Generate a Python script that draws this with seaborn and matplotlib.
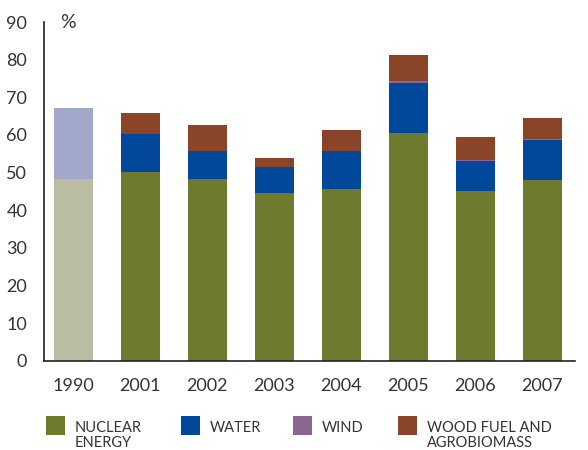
import numpy as np
import pandas as pd
import seaborn as sns
import matplotlib.pyplot as plt
from matplotlib.patches import Rectangle

# Data (%)
years = ['1990', '2001', '2002', '2003', '2004', '2005', '2006', '2007']
nuclear = [48.3, 50.1, 48.3, 44.6, 45.6, 60.5, 45.1, 48.1]
water = [18.8, 10.1, 7.4, 6.9, 10.1, 13.2, 8.0, 10.5]
wind = [0.0, 0.0, 0.0, 0.0, 0.0, 0.6, 0.3, 0.3]
wood = [0.0, 5.6, 6.9, 2.3, 5.6, 6.9, 6.0, 5.6]

labels = ['NUCLEAR\nENERGY', 'WATER', 'WIND', 'WOOD FUEL AND\nAGROBIOMASS']
colors = ['#6e7b2f', '#01479a', '#8a6790', '#8a4529']
faded = ['#b9bda2', '#a1a8cc']  # 1990 bar is drawn pale

sns.set_theme(style='white')
plt.rcParams['font.family'] = ['Lato', 'DejaVu Sans']

df = pd.DataFrame({'year': years, 'nuclear': nuclear, 'water': water,
                   'wind': wind, 'wood': wood})
df['c1'] = df['nuclear']
df['c2'] = df['c1'] + df['water']
df['c3'] = df['c2'] + df['wind']
df['c4'] = df['c3'] + df['wood']

W, H = 588, 450
fig = plt.figure(figsize=(W / 100, H / 100), dpi=100)
ax = fig.add_axes([0.0748, 0.198, 0.903, 0.753])

# draw cumulative totals from top layer down so lower layers cover upper ones
for col, c in zip(['c4', 'c3', 'c2', 'c1'], colors[::-1]):
    sns.barplot(data=df, x='year', y=col, color=c, width=0.58,
                saturation=1, ax=ax, errorbar=None, linewidth=0)

# recolour the 1990 bar (faded)
for p in ax.patches:
    if abs(p.get_x() + p.get_width() / 2) < 0.01:
        if abs(p.get_height() - df['c1'][0]) < 0.01:
            p.set_facecolor(faded[0])
        else:
            p.set_facecolor(faded[1])

ax.set_ylim(0, 90)
ax.set_xlim(-0.44, 7.49)
ax.set_yticks(range(0, 91, 10))
ax.set_xlabel('')
ax.set_ylabel('')
for s in ['top', 'right']:
    ax.spines[s].set_visible(False)
for s in ['left', 'bottom']:
    ax.spines[s].set_color('#222222')
    ax.spines[s].set_linewidth(1.2)
ax.tick_params(axis='both', length=0, labelsize=13, colors='#333333')
ax.tick_params(axis='x', pad=12)
ax.tick_params(axis='y', pad=12)
ax.text(0.03, 90, '%', fontsize=14, color='#333333', ha='left', va='center',
        transform=ax.get_yaxis_transform())

# legend along the bottom: square + label, label top aligned with square
sq_x = [46, 181, 293, 398]
for x0, c, lab in zip(sq_x, colors, labels):
    fig.add_artist(Rectangle((x0 / W, 1 - 435 / H), 19 / W, 19 / H,
                             facecolor=c, edgecolor='none',
                             transform=fig.transFigure))
    fig.text((x0 + 29) / W, 1 - 421 / H, lab, fontsize=10.5, color='#333333',
             ha='left', va='top', linespacing=1.05)

fig.savefig('out.png', dpi=100)
